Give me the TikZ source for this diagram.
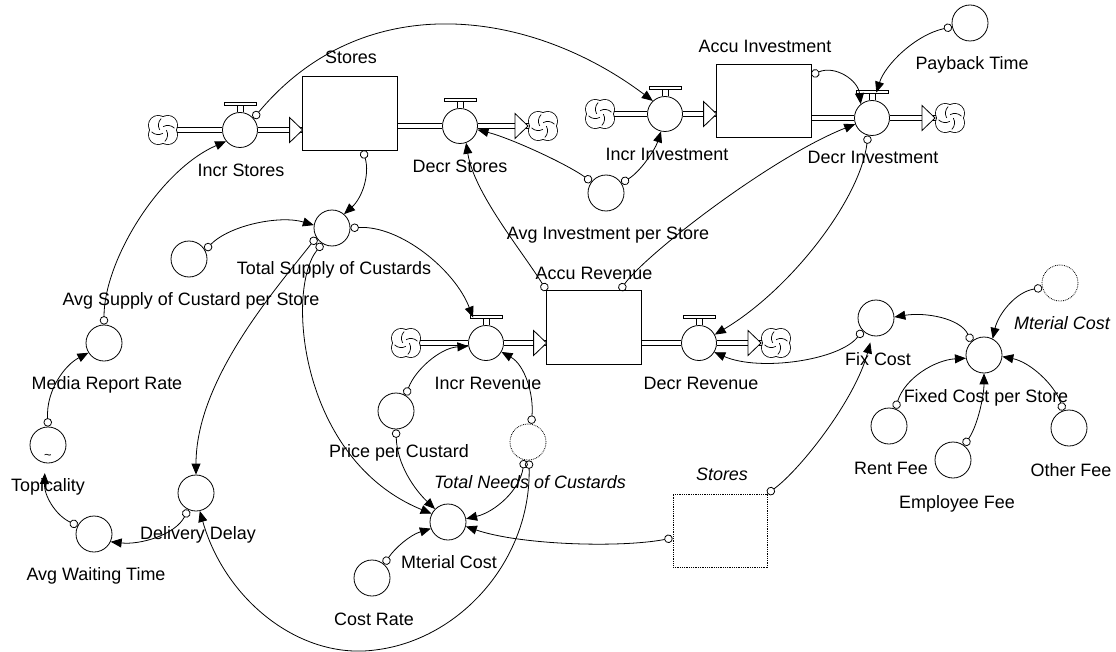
\documentclass[tikz,border=0pt]{standalone}
\usepackage{fontspec}
\setmainfont{Liberation Sans}
\usetikzlibrary{arrows.meta,calc}
\newcommand\fhead[1]{\draw[fill=white,line width=0.8pt] #1 -- ++(-13,-12.5) -- ++(0,25) -- cycle;}
\newcommand\vhandle[1]{%
  \draw[line width=0.8pt] ([xshift=-3pt]#1.north) -- ++(0,-7) ([xshift=3pt]#1.north) -- ++(0,-7);
  \draw[fill=white,line width=0.8pt] ([xshift=-16pt,yshift=7pt]#1.north) rectangle ([xshift=16pt,yshift=10pt]#1.north);}
\newcommand\drawcloud[1]{%
  \foreach \a in {45,135,225,315} \draw[line width=1.6pt] ([shift={(\a:6.8pt)}]#1.center) circle[radius=9.4pt];
  \foreach \a in {45,135,225,315} \fill[white] ([shift={(\a:6.8pt)}]#1.center) circle[radius=9.4pt];
  \foreach \a in {45,135,225,315} \draw[line width=0.7pt] ([shift={(\a:6.8pt)}]#1.center) ++(\a+90:9.4pt) arc[start angle=\a+90,end angle=\a+165,radius=9.4pt];}
\begin{document}
\begin{tikzpicture}[x=1bp,y=-1bp, font=\fontsize{18}{21}\selectfont, line width=0.8pt,
  aux/.style={circle,draw,fill=white,minimum size=36bp,inner sep=0pt},
  shadowaux/.style={aux,densely dotted},
  valve/.style={circle,draw,fill=white,minimum size=35bp,inner sep=0pt},
  stock/.style={rectangle,fill=white,minimum width=94bp,minimum height=73bp,inner sep=0pt},
  shadowstock/.style={stock,draw,densely dotted},
  cloudnode/.style={circle,minimum size=32bp,inner sep=0pt},
  lbl/.style={inner sep=0pt,anchor=base},
  shlbl/.style={lbl,font=\fontsize{18}{21}\selectfont\itshape},
  conn/.style={{Circle[open,length=8.5pt,width=8.5pt]}-{Triangle[length=11pt,width=9pt]},line width=0.8pt},
  pipe/.style={double,double distance=4.2bp,line width=0.8bp}
]
\useasboundingbox (0,0) rectangle (1116,652);

% flows: clouds, valves, stocks
\node[cloudnode] (c1) at (163,130) {};
\node[valve] (is) at (240,130) {};
\node[stock] (stores) at (350,113.5) {};
\node[valve] (ds) at (460,126) {};
\node[cloudnode] (c2) at (543,126) {};
\node[cloudnode] (c3) at (600,114) {};
\node[valve] (ii) at (665,114) {};
\node[stock] (ainv) at (764,101) {};
\node[valve] (di) at (872,118) {};
\node[cloudnode] (c4) at (950,118) {};
\node[cloudnode] (c5) at (406,343) {};
\node[valve] (ir) at (486,343) {};
\node[stock] (arev) at (594,327.5) {};
\node[valve] (dr) at (699,343) {};
\node[cloudnode] (c6) at (776,343) {};

\draw[pipe] (c1.center) -- (is.west);
\draw[pipe] (is.east) -- (is.east -| stores.west);
\draw[pipe] (stores.east |- ds.center) -- (ds.west);
\draw[pipe] (ds.east) -- (ds.center -| c2.center);
\draw[pipe] (c3.center) -- (ii.west);
\draw[pipe] (ii.east) -- (ii.east -| ainv.west);
\draw[pipe] (ainv.east |- di.center) -- (di.west);
\draw[pipe] (di.east) -- (di.center -| c4.center);
\draw[pipe] (c5.center) -- (ir.west);
\draw[pipe] (ir.east) -- (ir.east -| arev.west);
\draw[pipe] (arev.east |- dr.center) -- (dr.west);
\draw[pipe] (dr.east) -- (dr.center -| c6.center);
\foreach \s in {stores,ainv,arev} \draw (\s.north west) rectangle (\s.south east);

\drawcloud{c1}\drawcloud{c2}\drawcloud{c3}\drawcloud{c4}\drawcloud{c5}\drawcloud{c6}

\fhead{(is.center -| stores.west)}
\fhead{($(ds.center -| c2.center)+(-15,0)$)}
\fhead{(ii.center -| ainv.west)}
\fhead{($(di.center -| c4.center)+(-15,0)$)}
\fhead{(ir.center -| arev.west)}
\fhead{($(dr.center -| c6.center)+(-15,0)$)}

\vhandle{is}\vhandle{ds}\vhandle{ii}\vhandle{di}\vhandle{ir}\vhandle{dr}

% auxiliaries
\node[aux] (payback) at (970,23) {};
\node[aux] (avginv) at (606,193) {};
\node[aux] (ts) at (332,228) {};
\node[aux] (avgsup) at (189,259) {};
\node[aux] (mrr) at (104,343) {};
\node[aux] (topi) at (48,445) {};
\node[aux] (awt) at (94,534) {};
\node[aux] (dd) at (196,493) {};
\node[aux] (ppc) at (396,411) {};
\node[shadowaux] (tn) at (528,442) {};
\node[aux] (mc) at (448,522) {};
\node[aux] (cr) at (372,578) {};
\node[shadowstock] (storesS) at (720,530.5) {};
\node[aux] (fc) at (876,318) {};
\node[aux] (fcps) at (984,355) {};
\node[shadowaux] (mcS) at (1060,283) {};
\node[aux] (rent) at (889,426) {};
\node[aux] (emp) at (953,460) {};
\node[aux] (other) at (1069,428) {};
\node[inner sep=0pt,font=\fontsize{13}{13}\selectfont] (tilde) at (48,457) {\textasciitilde};

% labels
\node[lbl] (l-stores) at (351,63.5) {Stores};
\node[lbl] (l-is) at (241,176.5) {Incr Stores};
\node[lbl] (l-ds) at (460,172.5) {Decr Stores};
\node[lbl] (l-ainv) at (765,52.5) {Accu Investment};
\node[lbl] (l-ii) at (667,160.5) {Incr Investment};
\node[lbl] (l-di) at (873,163.5) {Decr Investment};
\node[lbl] (l-payback) at (972,69.5) {Payback Time};
\node[lbl] (l-avginv) at (608,239.5) {Avg Investment per Store};
\node[lbl] (l-ts) at (334,274.5) {Total Supply of Custards};
\node[lbl] (l-avgsup) at (191,305.5) {Avg Supply of Custard per Store};
\node[lbl] (l-arev) at (594,279.5) {Accu Revenue};
\node[lbl] (l-ir) at (488,389.5) {Incr Revenue};
\node[lbl] (l-dr) at (701,389.5) {Decr Revenue};
\node[lbl] (l-mrr) at (107,389.5) {Media Report Rate};
\node[lbl] (l-topi) at (48,491.5) {Topicality};
\node[lbl] (l-ppc) at (399,457.5) {Price per Custard};
\node[shlbl] (l-tn) at (530,488.5) {Total Needs of Custards};
\node[lbl] (l-mc) at (449,568.5) {Mterial Cost};
\node[lbl] (l-dd) at (198,539.5) {Delivery Delay};
\node[lbl] (l-awt) at (96,580.5) {Avg Waiting Time};
\node[lbl] (l-cr) at (374,625.5) {Cost Rate};
\node[shlbl] (l-storesS) at (722,480.5) {Stores};
\node[lbl] (l-fc) at (878,365.5) {Fix Cost};
\node[shlbl] (l-mcS) at (1062,329.5) {Mterial Cost};
\node[lbl] (l-fcps) at (986,402.5) {Fixed Cost per Store};
\node[lbl] (l-rent) at (891,474.5) {Rent Fee};
\node[lbl] (l-emp) at (957,508.5) {Employee Fee};
\node[lbl] (l-other) at (1071,476.5) {Other Fee};

% connectors
\coordinate (loopbot) at (375,650);
\draw[conn] (arev.north west) .. controls (522,251) and (474,193) .. (ds.-70);
\draw[conn] ([xshift=26pt]arev.north) .. controls (645,255) and (770,158) .. (di.200);
\draw[conn] (di.-103) .. controls (860,200) and (790,290) .. (dr.28);
\draw[conn] (fc.223) .. controls (840,360) and (760,372) .. (dr.-31);
\draw[conn] (avginv.142) .. controls (565,163) and (510,138) .. (ds.-12);
\draw[conn] (avginv.33) .. controls (640,172) and (655,150) .. (ii.-103);
\draw[conn] (is.41) .. controls (365,-15) and (532,10) .. (ii.133);
\draw[conn] ([xshift=13pt]stores.south) .. controls (370,175) and (362,198) .. (ts.49);
\draw[conn] (avgsup.29) .. controls (230,225) and (280,215) .. (ts.171);
\draw[conn] (ts.211) .. controls (275,290) and (196,380) .. (dd.north);
\draw[conn] (ts.238) .. controls (285,290) and (300,460) .. (mc.153);
\draw[conn] (ts.east) .. controls (400,225) and (455,270) .. ([xshift=-4pt,yshift=10pt]ir.120);
\draw[conn] (ppc.58) .. controls (415,370) and (440,348) .. (ir.190);
\draw[conn] (ppc.south) .. controls (397,465) and (415,490) .. (mc.135);
\draw[conn] (tn.80) .. controls (534,395) and (525,365) .. (ir.-30);
\draw[conn] (tn.-102) .. controls (520,490) and (495,512) .. (mc.10);
\draw[conn] (tn.-87) .. controls (531,560) and (460,640) .. (loopbot) .. controls (300,660) and (225,600) .. (dd.-78);
\draw[conn] ([yshift=-7.5pt]storesS.west) .. controls (620,548) and (520,545) .. (mc.-14);
\draw[conn] (cr.49) .. controls (395,548) and (410,535) .. (mc.201);
\draw[conn] (storesS.north east) .. controls (800,470) and (855,400) .. ([yshift=-7pt]fc.-108);
\draw[conn] (fcps.133) .. controls (960,318) and (925,312) .. (fc.3);
\draw[conn] (mcS.195) .. controls (1015,292) and (998,315) .. (fcps.62);
\draw[conn] (rent.70) .. controls (905,378) and (935,360) .. (fcps.190);
\draw[conn] (emp.53) .. controls (978,425) and (984,395) .. (fcps.south);
\draw[conn] (other.109) .. controls (1055,385) and (1030,362) .. (fcps.-5);
\draw[conn] (mrr.north) .. controls (104,260) and (160,170) .. (is.219);
\draw[conn] (topi.north) .. controls (46,390) and (65,365) .. (mrr.212);
\draw[conn] (awt.153) .. controls (55,515) and (44,495) .. ([yshift=-10pt]topi.-100);
\draw[conn] (dd.-115) .. controls (175,535) and (140,545) .. (awt.-25);
\draw[conn] ([yshift=-11pt]ainv.north east) .. controls (835,65) and (858,80) .. (di.129);
\draw[conn] (payback.192) .. controls (915,35) and (885,65) .. ([yshift=8pt]di.76);
\end{tikzpicture}
\end{document}
